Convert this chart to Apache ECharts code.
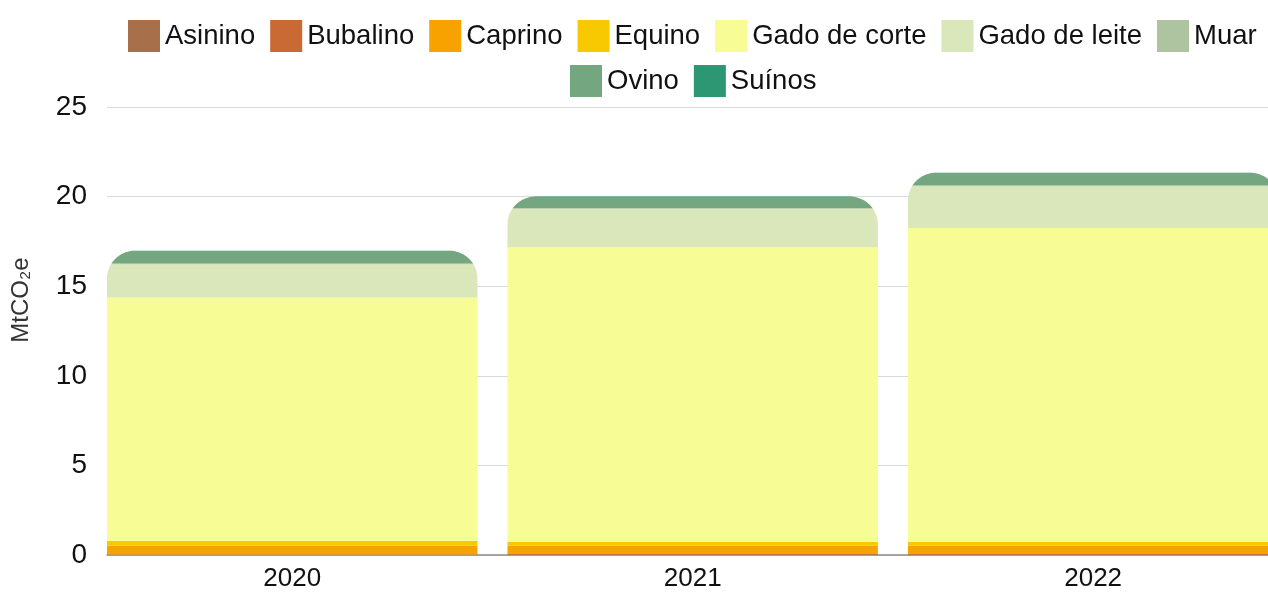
<!doctype html>
<html>
<head>
<meta charset="UTF-8">
<title>Emissões por rebanho</title>
<script src="https://cdn.jsdelivr.net/npm/echarts@6/dist/echarts.min.js"></script>
<style>
	html, body { margin: 0; padding: 0; background: #fff; }
	#chart { width: 1268px; height: 592px; }
</style>
</head>
<body>
<div id="chart"></div>
<script>
	var anos = ['2020', '2021', '2022'];
	// MtCO2e por rebanho, de baixo para cima na pilha
	var asinino = [0.01, 0.01, 0.01];
	var bubalino = [0.02, 0.05, 0.05];
	var caprino = [0.49, 0.46, 0.46];
	var equino = [0.28, 0.20, 0.20];
	var gadoCorte = [13.57, 16.45, 17.53];
	var gadoLeite = [1.85, 2.15, 2.33];
	var muar = [0.05, 0.05, 0.05];
	var ovino = [0.69, 0.61, 0.68];
	var suinos = [0.02, 0.02, 0.02];
	var yTicks = [0, 5, 10, 15, 20, 25];

	var nomes = ['Asinino', 'Bubalino', 'Caprino', 'Equino', 'Gado de corte', 'Gado de leite', 'Muar', 'Ovino', 'Suínos'];
	var cores = ['#a8704a', '#c96a34', '#f8a200', '#f8c800', '#f8fc94', '#dae7bb', '#aec4a0', '#74a680', '#2d9672'];
	var valores = [asinino, bubalino, caprino, equino, gadoCorte, gadoLeite, muar, ovino, suinos];

	var meiaBarra = 0.4625; // metade da largura da barra (unidades de categoria)
	var raio = 28; // canto arredondado do topo da pilha, px
	var fonte = "'Liberation Sans', Arial, sans-serif";

	var totais = anos.map(function(a, i) {
		var s = 0;
		for(var k = 0; k < valores.length; k++) s += valores[k][i];
		return s;
	});

	function desvio(y, topo) {
		if(y >= topo + raio) return 0;
		var d = topo + raio - y;
		return raio - Math.sqrt(Math.max(0, raio * raio - d * d));
	}

	function renderSegmento(params, api) {
		var i = api.value(0), lo = api.value(1), hi = api.value(2), tot = api.value(3);
		if(hi <= lo) return;
		var pb = api.coord([i - meiaBarra, lo]);
		var pt = api.coord([i + meiaBarra, hi]);
		var topo = api.coord([i, tot])[1];
		var x0 = pb[0], x1 = pt[0], yb = pb[1], yt = pt[1];
		var ys = [];
		var n = (yt < topo + raio) ? 30 : 1;
		for(var s = 0; s <= n; s++) ys.push(yb + (yt - yb) * s / n);
		var pts = [];
		ys.forEach(function(y) { pts.push([x0 + desvio(y, topo), y]); });
		ys.slice().reverse().forEach(function(y) { pts.push([x1 - desvio(y, topo), y]); });
		return {
			type: 'polygon',
			shape: { points: pts },
			style: api.style()
		};
	}

	var series = nomes.map(function(nome, k) {
		var dados = anos.map(function(a, i) {
			var base = 0;
			for(var j = 0; j < k; j++) base += valores[j][i];
			return [i, base, base + valores[k][i], totais[i]];
		});
		return {
			name: nome,
			type: 'custom',
			renderItem: renderSegmento,
			itemStyle: { color: cores[k] },
			encode: { x: 0, y: [1, 2] },
			data: dados,
			clip: false
		};
	});

	var legendaBase = {
		icon: 'rect',
		itemWidth: 32,
		itemHeight: 32,
		itemGap: 15,
		textStyle: { fontSize: 27.5, color: '#111', fontFamily: fonte }
	};

	var option = {
		backgroundColor: '#fff',
		animation: false,
		legend: [
			Object.assign({}, legendaBase, { data: nomes.slice(0, 7), left: 123, top: 15 }),
			Object.assign({}, legendaBase, { data: nomes.slice(7), left: 565, top: 60 })
		],
		grid: { left: 107, right: 0, top: 107, bottom: 36 },
		xAxis: {
			type: 'value',
			min: -meiaBarra,
			max: 2.4366,
			axisLine: { show: true, onZero: false, lineStyle: { color: '#8c8c8c', width: 1.5 } },
			axisTick: { show: false },
			splitLine: { show: false },
			axisLabel: {
				customValues: [0, 1, 2],
				formatter: function(v) { return anos[Math.round(v)]; },
				fontSize: 26,
				color: '#111',
				margin: 11,
				fontFamily: fonte
			}
		},
		yAxis: {
			type: 'value',
			min: yTicks[0],
			max: yTicks[yTicks.length - 1],
			interval: 5,
			name: 'MtCO₂e',
			nameLocation: 'middle',
			nameRotate: 90,
			nameGap: 74,
			nameTextStyle: {
				fontSize: 24,
				color: '#333',
				fontFamily: fonte,
				padding: [0, 0, 0, 62]
			},
			axisLine: { show: false },
			axisTick: { show: false },
			splitLine: { lineStyle: { color: '#d9d9d9', width: 1 } },
			axisLabel: {
				fontSize: 28,
				color: '#111',
				margin: 20,
				fontFamily: fonte
			}
		},
		series: series
	};

	var chart = echarts.init(document.getElementById('chart'));
	chart.setOption(option);
</script>
</body>
</html>
